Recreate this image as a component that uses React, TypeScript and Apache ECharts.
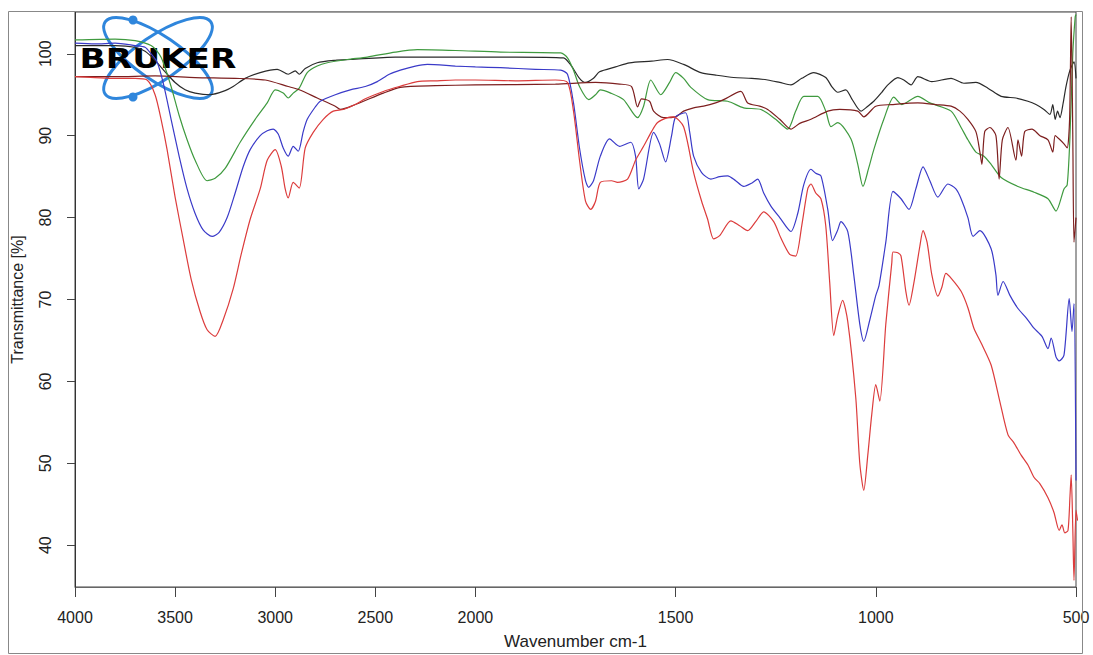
import React, { useEffect, useRef } from "react";
import * as echarts from "echarts";

// wavenumber (cm-1), transmittance (%)
const redSpectrum: [number, number][] = [
  [4000, 97.2], [3900, 97.1], [3800, 97.0], [3700, 97.0], [3640, 96.8], [3600, 95.0], [3570, 92.0], [3540, 88.3], [3500, 82.5], [3460, 77.4],
  [3420, 72.5], [3375, 68.5], [3340, 66.3], [3300, 65.5], [3260, 67.5], [3210, 71.3], [3170, 75.5], [3125, 79.8], [3075, 83.5], [3040, 87.0],
  [3000, 88.3], [2970, 86.3], [2950, 83.5], [2935, 82.4], [2910, 84.3], [2880, 83.6], [2850, 88.5], [2810, 90.4], [2760, 92.0], [2710, 93.0],
  [2660, 93.2], [2600, 93.8], [2550, 94.5], [2460, 95.4], [2380, 96.0], [2290, 96.6], [2200, 96.7], [2100, 96.8], [2000, 96.8], [1900, 96.7],
  [1800, 96.8], [1770, 96.5], [1755, 93.0], [1740, 87.0], [1725, 82.0], [1712, 81.0], [1700, 82.0], [1688, 84.3], [1660, 84.5], [1645, 84.3],
  [1620, 84.7], [1600, 87.0], [1580, 88.7], [1560, 90.5], [1545, 91.6], [1520, 92.2], [1505, 92.3], [1480, 91.1], [1455, 85.5], [1435, 82.0],
  [1420, 79.8], [1405, 77.4], [1390, 77.8], [1362, 79.6], [1340, 79.0], [1320, 78.4], [1300, 79.5], [1280, 80.7], [1255, 79.5], [1237, 77.5],
  [1215, 75.5], [1200, 75.3], [1185, 79.0], [1170, 83.5], [1162, 84.1], [1150, 83.0], [1137, 82.3], [1125, 79.0], [1115, 72.0], [1105, 65.6],
  [1095, 68.0], [1083, 69.9], [1070, 67.3], [1050, 58.0], [1040, 50.0], [1030, 46.7], [1020, 51.0], [1010, 56.0], [1000, 59.6], [990, 57.6],
  [975, 67.0], [960, 74.5], [957, 75.8], [945, 75.7], [937, 75.3], [925, 71.0], [917, 69.3], [905, 72.0], [890, 76.5], [882, 78.4],
  [872, 77.0], [860, 73.0], [845, 70.4], [835, 71.5], [825, 73.2], [810, 72.5], [787, 71.0], [770, 69.0], [755, 66.5], [735, 64.5],
  [712, 62.0], [690, 57.5], [670, 53.5], [655, 52.5], [637, 51.0], [620, 49.8], [605, 48.3], [590, 47.5], [570, 45.8], [555, 44.0],
  [542, 41.8], [535, 42.5], [528, 41.5], [520, 41.8], [515, 46.0], [512, 48.6], [508, 42.0], [505, 35.7], [500, 44.3], [496, 43.0],
];

const blueSpectrum: [number, number][] = [
  [4000, 101.3], [3900, 101.2], [3800, 101.3], [3700, 101.0], [3650, 100.8], [3620, 100.0], [3590, 99.0], [3560, 96.5], [3520, 92.0], [3480, 87.5],
  [3440, 83.5], [3400, 80.5], [3360, 78.5], [3315, 77.7], [3280, 78.2], [3240, 80.0], [3200, 83.0], [3160, 86.2], [3125, 88.3], [3075, 90.0],
  [3040, 90.6], [3010, 90.8], [2985, 90.2], [2960, 88.5], [2935, 87.5], [2910, 88.7], [2885, 88.1], [2860, 90.5], [2840, 92.0], [2800, 93.5],
  [2775, 94.2], [2700, 95.0], [2625, 95.6], [2550, 96.0], [2490, 96.6], [2430, 97.5], [2375, 98.0], [2300, 98.5], [2240, 98.7], [2100, 98.5],
  [2000, 98.4], [1937, 98.3], [1850, 98.1], [1787, 98.0], [1770, 97.5], [1755, 94.0], [1740, 88.5], [1725, 84.5], [1717, 83.7], [1705, 84.5],
  [1688, 87.5], [1665, 89.6], [1640, 88.7], [1612, 89.2], [1600, 87.5], [1592, 83.5], [1580, 84.7], [1555, 90.4], [1540, 89.0], [1525, 86.8],
  [1510, 90.0], [1500, 92.3], [1475, 92.8], [1465, 90.5], [1455, 87.5], [1435, 85.5], [1412, 84.7], [1390, 85.0], [1370, 85.1], [1350, 84.5],
  [1330, 83.8], [1310, 84.2], [1295, 84.7], [1280, 83.0], [1262, 81.4], [1240, 80.0], [1212, 78.3], [1195, 80.5], [1180, 84.0], [1162, 85.9],
  [1150, 85.4], [1137, 85.1], [1120, 81.0], [1108, 77.2], [1095, 78.5], [1087, 79.5], [1070, 78.3], [1055, 73.0], [1040, 67.0], [1030, 64.9],
  [1015, 67.5], [1000, 70.5], [992, 71.7], [975, 77.0], [957, 83.2], [937, 82.3], [917, 81.0], [900, 83.5], [882, 86.2], [865, 84.5],
  [845, 82.5], [820, 84.1], [800, 83.5], [787, 82.3], [770, 80.0], [757, 77.7], [740, 78.4], [712, 76.2], [700, 73.0], [695, 70.5],
  [682, 72.2], [665, 70.5], [645, 68.9], [625, 67.8], [605, 66.5], [585, 65.5], [570, 64.0], [562, 65.3], [550, 63.0], [542, 62.5],
  [530, 63.2], [517, 70.1], [510, 66.1], [505, 69.5], [500, 47.9],
];

const greenSpectrum: [number, number][] = [
  [4000, 101.7], [3800, 101.8], [3700, 101.6], [3620, 101.0], [3580, 100.0], [3560, 99.0], [3520, 96.0], [3480, 92.5], [3440, 89.5], [3400, 87.0],
  [3340, 84.5], [3300, 84.8], [3250, 86.0], [3175, 89.2], [3100, 92.0], [3040, 94.0], [3000, 95.6], [2960, 95.2], [2935, 94.6], [2910, 95.2],
  [2880, 95.8], [2840, 97.7], [2790, 98.5], [2740, 98.9], [2640, 99.3], [2540, 99.6], [2400, 100.2], [2290, 100.5], [2100, 100.4], [1937, 100.2],
  [1787, 100.1], [1770, 99.5], [1755, 98.0], [1740, 96.0], [1717, 94.4], [1700, 95.0], [1688, 95.6], [1662, 95.2], [1630, 94.4], [1595, 92.2],
  [1580, 93.6], [1562, 96.8], [1537, 95.0], [1515, 96.5], [1500, 97.7], [1480, 97.0], [1462, 95.9], [1420, 94.4], [1370, 94.2], [1330, 93.4],
  [1287, 93.2], [1250, 92.0], [1220, 90.8], [1200, 93.0], [1180, 94.8], [1145, 94.8], [1125, 93.0], [1112, 91.1], [1095, 91.6], [1062, 89.6],
  [1045, 86.5], [1032, 83.8], [1018, 86.0], [1005, 88.3], [980, 92.0], [955, 94.7], [935, 93.8], [895, 94.8], [865, 94.0], [812, 93.0],
  [787, 91.0], [770, 89.5], [750, 88.0], [730, 87.5], [712, 86.5], [687, 84.9], [645, 83.8], [605, 83.1], [570, 82.3], [550, 80.8],
  [530, 83.5], [522, 84.0], [515, 90.0], [508, 100.0], [502, 104.5], [500, 104.8],
];

const blackSpectrum: [number, number][] = [
  [4000, 101.0], [3800, 101.0], [3700, 100.8], [3650, 100.3], [3600, 99.2], [3550, 97.8], [3500, 96.5], [3450, 95.6], [3400, 95.2], [3325, 95.0],
  [3250, 95.5], [3210, 96.0], [3150, 97.0], [3075, 97.7], [2990, 98.1], [2935, 97.5], [2900, 97.9], [2880, 97.5], [2850, 98.2], [2790, 98.9],
  [2700, 99.2], [2625, 99.3], [2400, 99.6], [2100, 99.6], [1900, 99.6], [1780, 99.5], [1760, 98.5], [1740, 97.0], [1725, 96.5], [1705, 97.0],
  [1690, 97.8], [1650, 98.4], [1615, 98.9], [1560, 99.1], [1520, 99.3], [1480, 98.7], [1437, 97.7], [1400, 97.4], [1355, 97.1], [1310, 97.0],
  [1270, 96.8], [1240, 96.5], [1212, 96.2], [1185, 97.0], [1155, 97.7], [1125, 97.1], [1110, 96.0], [1095, 95.3], [1075, 95.6], [1060, 94.5],
  [1037, 93.0], [1020, 93.6], [1005, 94.2], [985, 95.3], [970, 96.2], [945, 97.1], [930, 96.8], [912, 96.2], [895, 97.2], [860, 96.6],
  [812, 97.0], [780, 96.4], [750, 96.5], [720, 95.8], [687, 94.8], [650, 94.6], [620, 94.2], [600, 93.8], [580, 93.2], [565, 92.6],
  [558, 93.8], [552, 92.0], [546, 93.0], [540, 92.2], [532, 94.0], [525, 96.0], [515, 98.0], [505, 99.0], [500, 97.0],
];

const brownSpectrum: [number, number][] = [
  [4000, 97.2], [3800, 97.2], [3600, 97.3], [3400, 97.1], [3200, 97.0], [3050, 96.8], [2935, 96.0], [2880, 95.6], [2790, 94.6], [2700, 93.6],
  [2675, 93.2], [2600, 93.8], [2460, 95.2], [2375, 95.9], [2200, 96.1], [2000, 96.2], [1800, 96.3], [1700, 96.5], [1640, 96.3], [1610, 96.0],
  [1595, 93.5], [1585, 94.5], [1565, 94.2], [1555, 93.0], [1530, 92.2], [1500, 92.3], [1480, 93.0], [1455, 93.4], [1430, 93.6], [1400, 94.0],
  [1380, 94.4], [1337, 95.4], [1320, 94.0], [1290, 93.6], [1270, 93.2], [1240, 92.0], [1212, 90.8], [1190, 91.5], [1162, 92.0], [1120, 93.0],
  [1090, 93.2], [1045, 93.0], [1030, 92.3], [1000, 93.6], [960, 93.8], [895, 94.0], [850, 93.8], [812, 93.6], [790, 93.0], [770, 92.0],
  [750, 90.5], [740, 88.0], [735, 86.5], [728, 90.5], [715, 91.0], [700, 90.0], [692, 84.7], [684, 89.5], [670, 91.0], [650, 87.0],
  [645, 89.5], [636, 87.5], [628, 90.5], [610, 90.8], [590, 90.0], [570, 89.5], [558, 88.0], [552, 90.0], [540, 89.5], [530, 89.0],
  [522, 88.5], [516, 92.0], [512, 104.5], [508, 90.0], [505, 77.0], [500, 80.0],
];

const xTickWavenumbers = [4000, 3500, 3000, 2500, 2000, 1500, 1000, 500];
const yTicks = [40, 50, 60, 70, 80, 90, 100];

// OPUS-style axis: scale doubles below 2000 cm-1
const toAxis = (wn: number) => (wn >= 2000 ? 4000 - wn : 2000 + 2 * (2000 - wn));
const fromAxis = (u: number) => (u <= 2000 ? 4000 - u : 2000 - (u - 2000) / 2);

const FONT = '"Liberation Sans", Arial, sans-serif';

export default function App() {
  const ref = useRef<HTMLDivElement>(null);
  useEffect(() => {
    if (!ref.current) return;
    const chart = echarts.init(ref.current, null, { renderer: "svg" });
    const mk = (name: string, data: [number, number][], color: string) => ({
      name,
      type: "line",
      data: data.map(([w, t]) => [toAxis(w), t]),
      showSymbol: false,
      smooth: 0.25,
      lineStyle: { color, width: 1.2 },
      itemStyle: { color },
      silent: true,
    });
    const tickU = xTickWavenumbers.map(toAxis);
    const blue = "#2f86dc";
    chart.setOption({
      animation: false,
      backgroundColor: "#ffffff",
      grid: { left: 75, right: 17, top: 12, bottom: 65, show: true, borderColor: "#444", borderWidth: 1 },
      xAxis: {
        type: "value",
        min: 0,
        max: 5000,
        name: "Wavenumber cm-1",
        nameLocation: "middle",
        nameGap: 46,
        nameTextStyle: { fontFamily: FONT, fontSize: 17, color: "#222" },
        axisLine: { show: true, lineStyle: { color: "#666", width: 1 } },
        axisTick: { show: true, length: 10, customValues: tickU, lineStyle: { color: "#444" } },
        axisLabel: {
          customValues: tickU,
          formatter: (v: number) => String(Math.round(fromAxis(v))),
          fontFamily: FONT,
          fontSize: 16,
          color: "#222",
          margin: 22,
          showMinLabel: true,
          showMaxLabel: true,
        },
        splitLine: { show: false },
      },
      yAxis: {
        type: "value",
        min: 34.9,
        max: 105.1,
        name: "Transmittance [%]",
        nameLocation: "middle",
        nameGap: 50,
        nameRotate: 90,
        nameTextStyle: { fontFamily: FONT, fontSize: 16, color: "#222" },
        axisLine: { show: true, lineStyle: { color: "#333", width: 1 } },
        axisTick: { show: true, length: 8, customValues: yTicks, lineStyle: { color: "#444" } },
        axisLabel: {
          customValues: yTicks,
          rotate: 90,
          fontFamily: FONT,
          fontSize: 16,
          color: "#222",
          margin: 22,
        },
        splitLine: { show: false },
      },
      series: [
        mk("black", blackSpectrum, "#2a2a2a"),
        mk("green", greenSpectrum, "#3f9a3f"),
        mk("brown", brownSpectrum, "#7d1f1f"),
        mk("blue", blueSpectrum, "#3a3ac8"),
        mk("red", redSpectrum, "#dc3c3c"),
      ],
      graphic: [
        {
          type: "rect",
          silent: true,
          shape: { x: 8.5, y: 11.5, width: 1074, height: 642 },
          style: { fill: "none", stroke: "#888", lineWidth: 1 },
          z: 100,
        },
        {
          type: "group",
          silent: true,
          z: 110,
          children: [
            {
              type: "ellipse",
              x: 158,
              y: 58,
              rotation: 0.6,
              shape: { cx: 0, cy: 0, rx: 64, ry: 22 },
              style: { fill: "none", stroke: blue, lineWidth: 3 },
            },
            {
              type: "ellipse",
              x: 158,
              y: 58,
              rotation: -0.6,
              shape: { cx: 0, cy: 0, rx: 64, ry: 22 },
              style: { fill: "none", stroke: blue, lineWidth: 3 },
            },
            { type: "circle", shape: { cx: 133, cy: 20, r: 4.5 }, style: { fill: blue } },
            { type: "circle", shape: { cx: 133, cy: 97, r: 4.5 }, style: { fill: blue } },
            {
              type: "text",
              x: 158,
              y: 59,
              scaleX: 1.32,
              style: {
                x: 0,
                y: 0,
                text: "BRUKER",
                font: 'bold 26px "DejaVu Sans", sans-serif',
                fill: "#000",
                textAlign: "center",
                textVerticalAlign: "middle",
              },
            },
          ],
        },
      ],
    });
    return () => chart.dispose();
  }, []);
  return (
    <div
      ref={ref}
      style={{ position: "fixed", left: 0, top: 0, width: 1093, height: 655, background: "#fff" }}
    />
  );
}
